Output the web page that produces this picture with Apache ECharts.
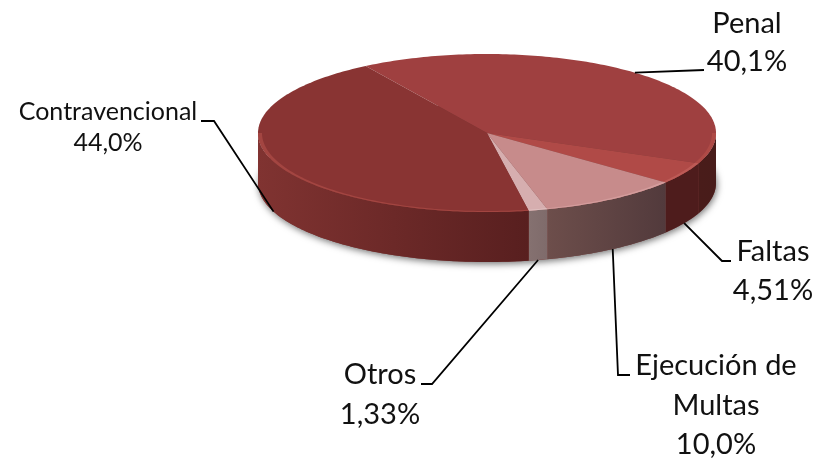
<!DOCTYPE html>
<html>
<head>
<meta charset="utf-8">
<title>Distribución</title>
<style>
html, body { margin: 0; padding: 0; background: #fff; }
#chart { width: 825px; height: 459px; }
</style>
<script src="https://cdn.jsdelivr.net/npm/echarts@6/dist/echarts.min.js"></script>
</head>
<body>
<div id="chart"></div>
<script>
// datos
const categories = ['Penal', 'Faltas', 'Ejecución de\nMultas', 'Otros', 'Contravencional']
const values = [40.1, 4.51, 10.0, 1.33, 44.0]
const valueLabels = ['40,1%', '4,51%', '10,0%', '1,33%', '44,0%']

// colores por porcion
const topColors = ['#9f4040', '#b04a47', '#c78b8b', '#d6aeaf', '#893433']
const rimColors = ['#ae4a46', '#bd5a56', '#d39c9c', '#dfc0c0', '#a34541']
const sideFrom = ['#491c1a', '#4e1c1c', '#6d4e4b', '#857170', '#803331']
const sideTo = ['#481c1a', '#4e1c1c', '#523a3c', '#7f6b6b', '#581f1f']

// geometria del pastel
const pie = { cx: 487, cy: 133, rx: 229, ry: 79, depth: 50, startDeg: 238 }

// codos de las lineas guia y posicion de los textos
const labelLayout = [
    { elbow: [[704, 70]], tx: 747, ty: 5, size: 29, lh: 38 },
    { elbow: [[722, 261], [731, 261]], tx: 773, ty: 232, size: 29, lh: 39 },
    { elbow: [[618, 375], [630, 375]], tx: 716, ty: 346, size: 29, lh: 39.5 },
    { elbow: [[432, 384], [421, 384]], tx: 380, ty: 355, size: 29, lh: 40 },
    { elbow: [[214, 121], [201, 121]], tx: 108, ty: 96, size: 25, lh: 31.5 }
]

const total = values.reduce((a, b) => a + b, 0)

function pointAt(deg, dy, inset) {
    const r = deg * Math.PI / 180
    const k = inset || [0, 0]
    return [pie.cx + (pie.rx - k[0]) * Math.cos(r), pie.cy + (pie.ry - k[1]) * Math.sin(r) + (dy || 0)]
}

function arcPoints(from, to, dy, inset) {
    const pts = []
    const n = Math.max(2, Math.ceil(Math.abs(to - from)))
    for (let i = 0; i <= n; i++) {
        pts.push(pointAt(from + (to - from) * i / n, dy, inset))
    }
    return pts
}

function sliceAngles(index) {
    let a = pie.startDeg
    for (let i = 0; i < index; i++) a += values[i] / total * 360
    return [a, a + values[index] / total * 360]
}

// parte visible del costado (frente de la elipse, 0 a 180 grados)
function frontRange(from, to) {
    for (const k of [0, -360]) {
        const a = Math.max(from + k, 0)
        const b = Math.min(to + k, 180)
        if (b > a) return [a, b]
    }
    return null
}

function renderBase() {
    return {
        type: 'polygon',
        shape: { points: arcPoints(0, 360, pie.depth) },
        style: {
            fill: '#7a3a38',
            shadowBlur: 7,
            shadowColor: 'rgba(0,0,0,0.55)',
            shadowOffsetX: 1,
            shadowOffsetY: 2
        }
    }
}

function renderSlice(params) {
    const i = params.dataIndex
    const [from, to] = sliceAngles(i)
    const children = []
    const front = frontRange(from, to)
    if (front) {
        const lower = arcPoints(front[0], front[1], pie.depth)
        const upper = arcPoints(front[0], front[1], 0).reverse()
        children.push({
            type: 'polygon',
            shape: { points: lower.concat(upper) },
            style: {
                fill: new echarts.graphic.LinearGradient(0, 0, 1, 0, [
                    { offset: 0, color: sideFrom[i] },
                    { offset: 1, color: sideTo[i] }
                ])
            }
        })
    }
    children.push({
        type: 'polygon',
        shape: { points: [[pie.cx, pie.cy]].concat(arcPoints(from, to, 0)) },
        style: { fill: topColors[i] }
    })
    if (front) {
        // bisel: mas ancho a los lados, fino abajo
        const outer = arcPoints(front[0], front[1], 0)
        const inner = arcPoints(front[0], front[1], 0, [4, 1]).reverse()
        children.push({
            type: 'polygon',
            shape: { points: outer.concat(inner) },
            style: { fill: rimColors[i] }
        })
    }
    return { type: 'group', children: children }
}

function renderLabel(params) {
    const i = params.dataIndex
    const [from, to] = sliceAngles(i)
    const mid = (from + to) / 2
    const layout = labelLayout[i]
    const inFront = Math.sin(mid * Math.PI / 180) > 0
    const start = pointAt(mid, inFront ? pie.depth : 0)
    return {
        type: 'group',
        children: [
            {
                type: 'polyline',
                shape: { points: [start].concat(layout.elbow) },
                style: { fill: 'none', stroke: '#000', lineWidth: 1.8 }
            },
            {
                type: 'text',
                x: layout.tx,
                y: layout.ty,
                style: {
                    text: categories[i] + '\n' + valueLabels[i],
                    fontFamily: 'Lato',
                    fontSize: layout.size,
                    lineHeight: layout.lh,
                    fill: '#111',
                    align: 'center',
                    verticalAlign: 'top'
                }
            }
        ]
    }
}

const myCharts = echarts.init(document.getElementById('chart'), null, { renderer: 'canvas' })
myCharts.setOption({
    backgroundColor: '#fff',
    animation: false,
    series: [
        { type: 'custom', coordinateSystem: 'none', silent: true, z: 1, data: [1], renderItem: renderBase },
        { type: 'custom', coordinateSystem: 'none', silent: true, z: 2, data: values, renderItem: renderSlice },
        { type: 'custom', coordinateSystem: 'none', silent: true, z: 3, data: values, renderItem: renderLabel }
    ]
})
</script>
</body>
</html>
